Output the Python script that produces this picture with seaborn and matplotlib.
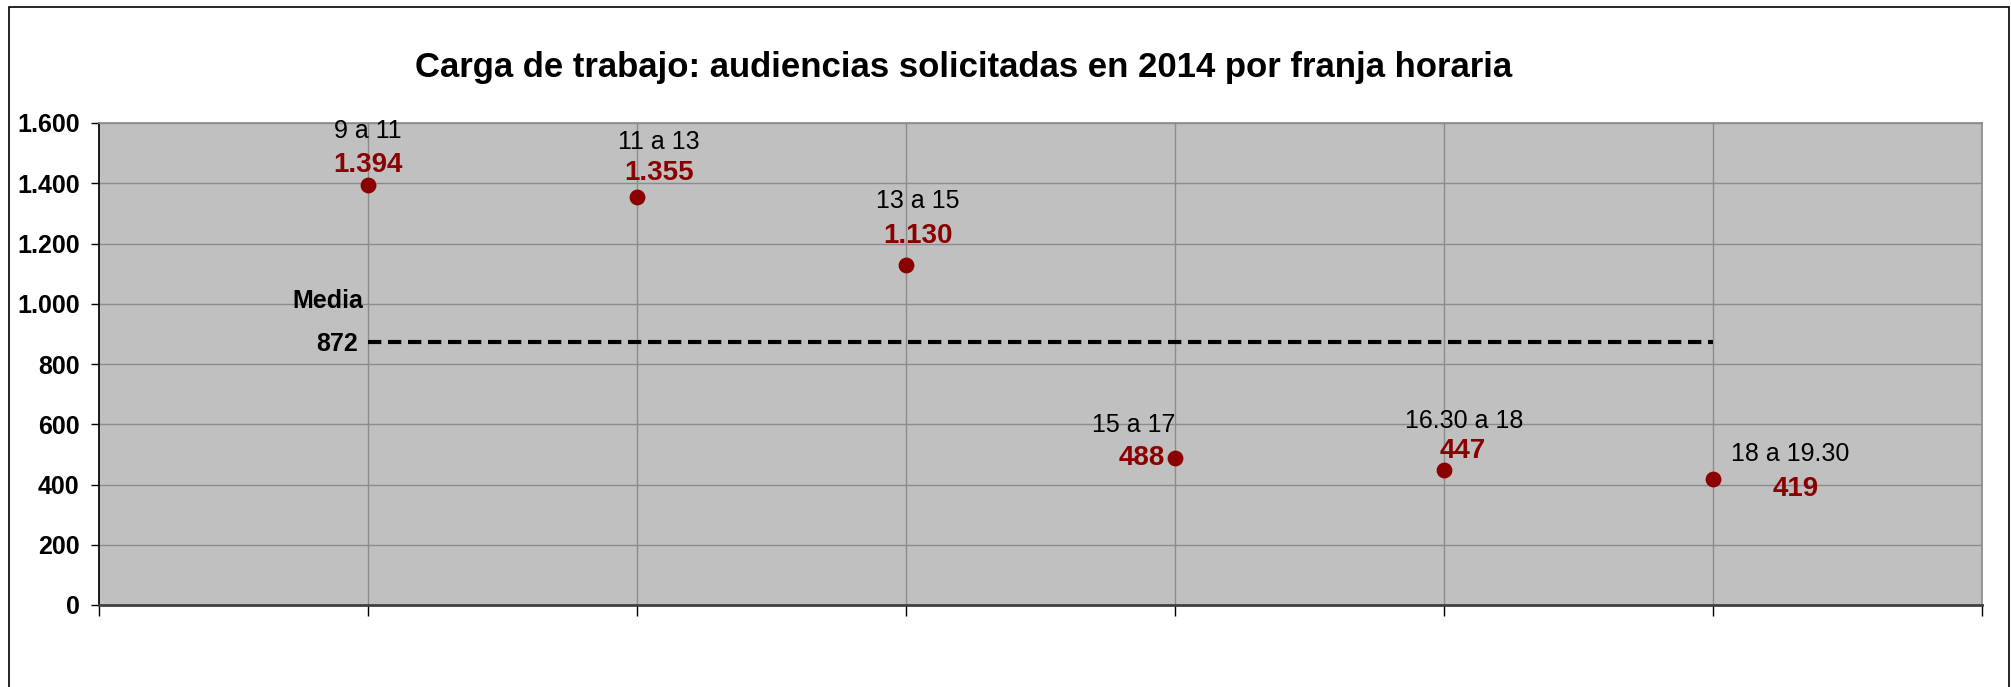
import numpy as np
import pandas as pd
import seaborn as sns
import matplotlib.pyplot as plt
from matplotlib.patches import Rectangle

# Data
franjas = ["9 a 11", "11 a 13", "13 a 15", "15 a 17", "16.30 a 18", "18 a 19.30"]
audiencias = [1394, 1355, 1130, 488, 447, 419]
media = 872

# label offsets in pixels (category label, value label) relative to each point
cat_offsets = [(0, 54), (22, 55), (12, 64), (-41, 33), (20, 49), (77, 25)]
val_offsets = [(0, 20), (22, 24), (12, 29), (-33, 0), (19, 19), (83, -10)]

DARK_RED = "#8B0000"

sns.set_theme(style="white")
plt.rcParams["font.family"] = ["Liberation Sans", "DejaVu Sans"]
plt.rcParams["text.color"] = "black"
plt.rcParams["ytick.color"] = "black"
plt.rcParams["xtick.color"] = "black"

df = pd.DataFrame({"pos": np.arange(1, len(franjas) + 1), "franja": franjas, "audiencias": audiencias})

fig = plt.figure(figsize=(20.11, 6.87), dpi=100)
ax = fig.add_axes([99 / 2011, 82 / 687, 1883 / 2011, 482 / 687])
ax.set_facecolor("#C0C0C0")

# grid lines
for v in range(200, 1601, 200):
    ax.axhline(v, color="#8C8C8C", lw=1.0, zorder=0)
for p in df["pos"]:
    ax.axvline(p, color="#8C8C8C", lw=1.0, zorder=0)

# mean line
ax.plot([df["pos"].min(), df["pos"].max()], [media, media], color="black", lw=3,
        ls=(0, (3.2, 1.6)), zorder=2)
ax.annotate(f"{media}", (df["pos"].min(), media), xytext=(-10, -2), textcoords="offset pixels",
            ha="right", va="center", fontsize=18, fontweight="bold", color="black")
ax.annotate("Media", (df["pos"].min(), media), xytext=(-40, 41), textcoords="offset pixels",
            ha="center", va="center", fontsize=18, fontweight="bold", color="black")

sns.scatterplot(data=df, x="pos", y="audiencias", color=DARK_RED, s=130, edgecolor=DARK_RED,
                linewidth=0, ax=ax, zorder=3, legend=False)

for i, row in df.iterrows():
    ax.annotate(row["franja"], (row["pos"], row["audiencias"]), xytext=cat_offsets[i],
                textcoords="offset pixels", ha="center", va="center", fontsize=18, color="black")
    ax.annotate(f"{row['audiencias']:,}".replace(",", "."), (row["pos"], row["audiencias"]),
                xytext=val_offsets[i], textcoords="offset pixels", ha="center", va="center",
                fontsize=20, fontweight="bold", color=DARK_RED)

ax.set_xlim(0, 7)
ax.set_ylim(0, 1600)
ax.set_xticks(range(0, 8))
ax.set_xticklabels([])
ax.set_yticks(range(0, 1601, 200))
ax.set_yticklabels([f"{v:,}".replace(",", ".") for v in range(0, 1601, 200)],
                   fontsize=18, fontweight="bold", color="black")
ax.tick_params(axis="y", direction="out", length=6, width=1, color="black", pad=8, left=True)
ax.tick_params(axis="x", direction="out", length=8, width=1, color="black", bottom=True)
ax.set_xlabel("")
ax.set_ylabel("")

ax.spines["top"].set_color("#8C8C8C")
ax.spines["right"].set_color("#8C8C8C")
ax.spines["left"].set_color("black")
ax.spines["bottom"].set_color("#404040")
ax.spines["bottom"].set_linewidth(2)

fig.text(964 / 2011, 1 - 67 / 687,
         "Carga de trabajo: audiencias solicitadas en 2014 por franja horaria",
         ha="center", va="center", fontsize=25, fontweight="bold", color="black")

# chart frame
fig.patches.append(Rectangle((9 / 2011, -0.05), 2000 / 2011, 1.05 - 7 / 687,
                             transform=fig.transFigure, fill=False, edgecolor="black", lw=1.2))

fig.savefig("out.png", dpi=100, facecolor="white")
